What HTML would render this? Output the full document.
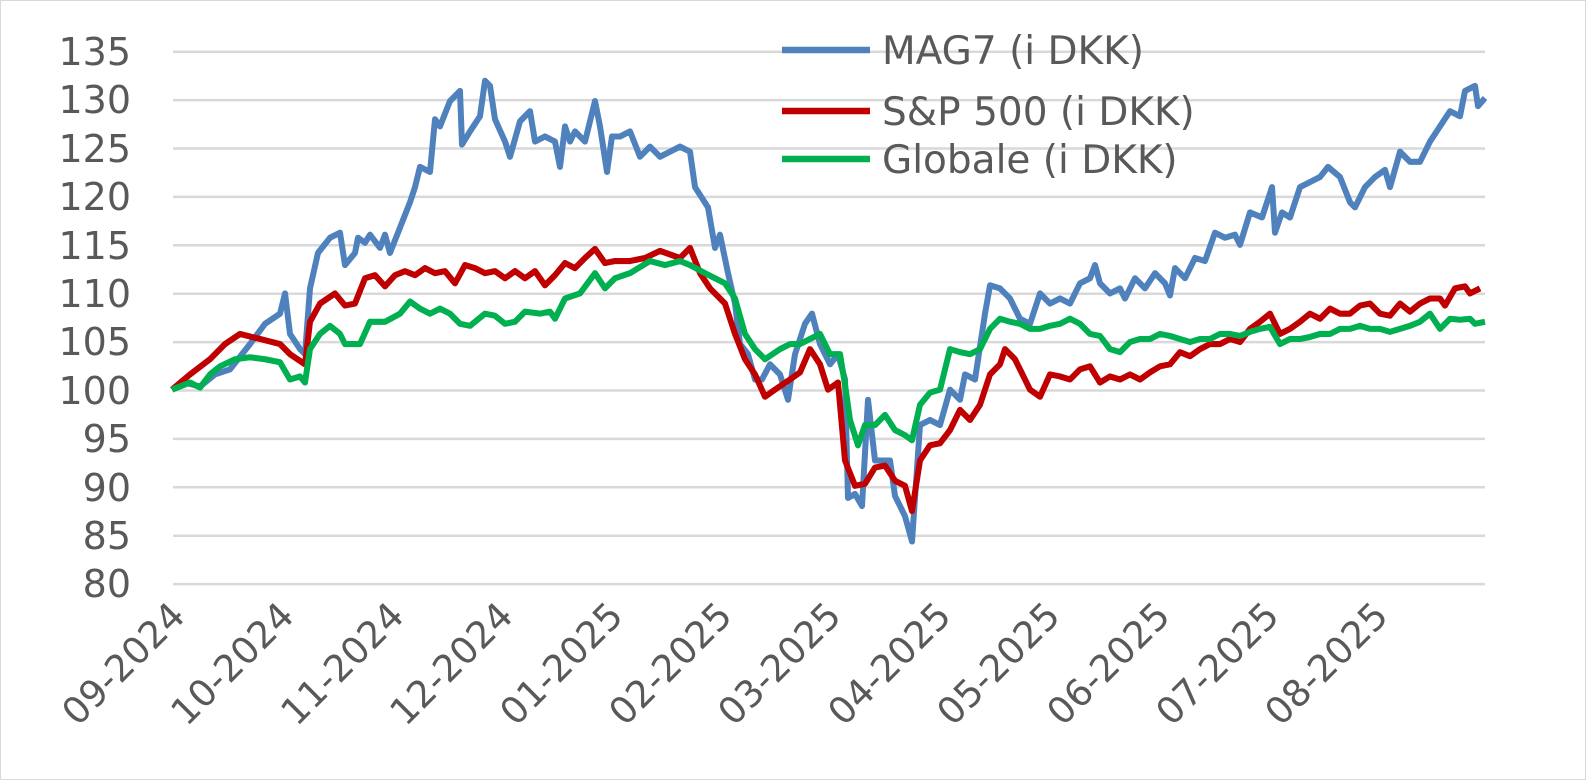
<!DOCTYPE html><html><head><meta charset="utf-8"><style>body{margin:0;background:#fff}svg{display:block}text{font-family:"DejaVu Sans","Liberation Sans",sans-serif;fill:#595959}</style></head><body>
<svg width="1586" height="780" viewBox="0 0 1586 780" xmlns="http://www.w3.org/2000/svg">
<rect x="0.5" y="0.5" width="1585" height="779" fill="#fff" stroke="#d9d9d9"/>
<g stroke="#d9d9d9" stroke-width="2.5">
<line x1="173" x2="1485" y1="51.7" y2="51.7"/><line x1="173" x2="1485" y1="100.1" y2="100.1"/><line x1="173" x2="1485" y1="148.5" y2="148.5"/><line x1="173" x2="1485" y1="196.9" y2="196.9"/><line x1="173" x2="1485" y1="245.3" y2="245.3"/><line x1="173" x2="1485" y1="293.7" y2="293.7"/><line x1="173" x2="1485" y1="342.1" y2="342.1"/><line x1="173" x2="1485" y1="390.5" y2="390.5"/><line x1="173" x2="1485" y1="438.9" y2="438.9"/><line x1="173" x2="1485" y1="487.3" y2="487.3"/><line x1="173" x2="1485" y1="535.7" y2="535.7"/><line x1="173" x2="1485" y1="584.1" y2="584.1"/>
</g>
<g font-size="38" text-anchor="end">
<text x="131" y="65">135</text><text x="131" y="113">130</text><text x="131" y="162">125</text><text x="131" y="210">120</text><text x="131" y="259">115</text><text x="131" y="307">110</text><text x="131" y="355">105</text><text x="131" y="404">100</text><text x="131" y="452">95</text><text x="131" y="501">90</text><text x="131" y="549">85</text><text x="131" y="597">80</text>
</g>
<g font-size="37" text-anchor="end">
<text transform="translate(187,618) rotate(-45)">09-2024</text>
<text transform="translate(296,618) rotate(-45)">10-2024</text>
<text transform="translate(406,618) rotate(-45)">11-2024</text>
<text transform="translate(515,618) rotate(-45)">12-2024</text>
<text transform="translate(625,618) rotate(-45)">01-2025</text>
<text transform="translate(734,618) rotate(-45)">02-2025</text>
<text transform="translate(843,618) rotate(-45)">03-2025</text>
<text transform="translate(953,618) rotate(-45)">04-2025</text>
<text transform="translate(1062,618) rotate(-45)">05-2025</text>
<text transform="translate(1172,618) rotate(-45)">06-2025</text>
<text transform="translate(1281,618) rotate(-45)">07-2025</text>
<text transform="translate(1390,618) rotate(-45)">08-2025</text>
</g>
<g fill="none" stroke-width="6" stroke-linejoin="round" transform="matrix(1 0 0 1.0125 0 -0.2)">
<polyline stroke="#4f81bd" points="172,385 185,378 200,382 215,370 230,365 250,340 265,320 280,310 285,290 290,330 300,345 305,350 310,285 318,250 330,235 340,230 345,262 355,250 358,235 365,240 370,232 380,245 385,232 390,250 400,225 410,200 415,185 420,165 430,170 435,118 440,125 450,100 460,90 462,143 470,130 480,115 485,80 490,85 495,118 505,140 510,155 520,120 530,110 535,140 545,135 555,140 560,165 565,125 570,140 575,130 585,140 595,100 600,125 607,170 612,135 620,135 630,130 640,155 650,145 660,155 670,150 680,145 690,150 695,185 708,205 715,245 720,232 728,270 735,300 740,340 748,350 755,375 762,375 770,360 780,370 788,395 795,350 805,320 812,310 820,340 830,360 838,350 845,375 848,492 855,488 862,500 868,395 875,455 885,455 890,455 895,490 905,510 912,535 920,420 930,415 940,420 950,385 960,395 965,370 975,375 985,310 990,282 1000,285 1010,295 1020,315 1030,320 1040,290 1050,300 1060,295 1070,300 1080,280 1090,275 1095,262 1100,280 1110,290 1120,285 1125,295 1135,275 1145,285 1155,270 1165,280 1170,292 1175,265 1185,275 1195,255 1205,258 1215,230 1225,235 1235,232 1240,242 1250,210 1262,215 1272,185 1275,230 1282,210 1290,215 1300,185 1310,180 1320,175 1328,165 1340,175 1350,200 1355,205 1365,185 1375,175 1385,168 1390,185 1400,150 1410,160 1420,160 1430,140 1440,125 1450,110 1460,115 1465,90 1475,85 1478,105 1485,97"/>
<polyline stroke="#c00000" points="172,385 190,370 210,355 225,340 240,330 260,335 280,340 290,350 305,360 310,318 320,300 335,290 345,302 355,300 365,275 375,272 385,283 395,272 405,268 415,272 425,265 435,270 445,268 455,280 465,262 475,265 485,270 495,268 505,275 515,268 525,275 535,268 545,282 555,272 565,260 575,265 585,255 595,246 605,260 615,258 630,258 645,255 660,248 680,255 690,245 700,270 710,285 725,300 735,330 745,355 755,370 765,392 775,385 790,375 800,368 810,345 820,360 828,385 838,378 845,455 855,480 865,478 875,462 885,460 895,475 905,480 912,505 920,455 930,440 940,438 950,425 960,405 970,415 980,400 990,370 1000,360 1005,345 1015,355 1020,365 1030,385 1040,392 1050,370 1060,372 1070,375 1080,365 1090,362 1100,378 1110,372 1120,375 1130,370 1140,375 1150,368 1160,362 1170,360 1180,348 1190,352 1200,345 1210,340 1220,340 1230,335 1240,338 1250,325 1260,318 1270,310 1280,330 1290,325 1300,318 1310,310 1320,315 1330,305 1340,310 1350,310 1360,302 1370,300 1380,310 1390,312 1400,300 1410,308 1420,300 1430,295 1440,295 1445,302 1455,285 1465,283 1470,290 1480,285"/>
<polyline stroke="#00b050" points="172,385 190,378 200,383 210,370 220,362 235,355 250,353 265,355 280,358 290,375 300,372 305,378 310,345 320,330 330,322 340,330 345,340 360,340 370,318 385,318 400,310 410,298 420,305 430,310 440,305 450,310 460,320 470,322 485,310 495,312 505,320 515,318 525,308 540,310 550,308 555,315 565,295 580,290 595,270 605,285 615,275 630,270 650,258 665,262 680,258 690,262 705,270 715,275 725,280 735,295 745,330 755,345 765,355 780,345 790,340 800,340 810,335 820,330 830,350 840,350 845,380 850,415 858,440 865,420 875,420 885,410 895,425 905,430 912,435 920,400 930,388 940,385 950,345 960,348 970,350 980,345 990,325 1000,315 1010,318 1020,320 1030,325 1040,325 1050,322 1060,320 1070,315 1080,320 1090,330 1100,332 1110,345 1120,348 1130,338 1140,335 1150,335 1160,330 1170,332 1180,335 1190,338 1200,335 1210,335 1220,330 1230,330 1240,332 1250,328 1260,325 1270,323 1280,340 1290,335 1300,335 1310,333 1320,330 1330,330 1340,325 1350,325 1360,322 1370,325 1380,325 1390,328 1400,325 1410,322 1420,318 1430,310 1440,325 1450,315 1460,316 1470,315 1475,320 1485,318"/>
</g>
<g stroke-width="6.5">
<line x1="782" x2="870" y1="50" y2="50" stroke="#4f81bd"/>
<line x1="782" x2="870" y1="111" y2="111" stroke="#c00000"/>
<line x1="782" x2="870" y1="159" y2="159" stroke="#00b050"/>
</g>
<g font-size="39">
<text x="882" y="64">MAG7 (i DKK)</text>
<text x="882" y="125">S&amp;P 500 (i DKK)</text>
<text x="882" y="173">Globale (i DKK)</text>
</g>
</svg></body></html>
